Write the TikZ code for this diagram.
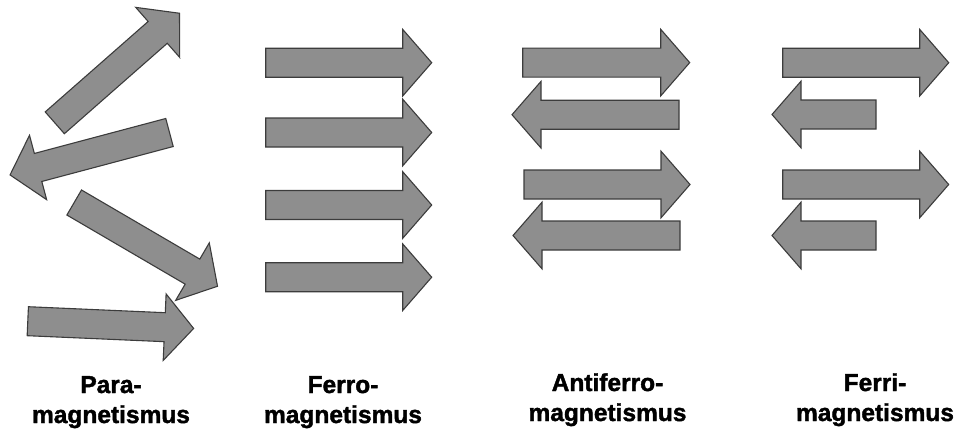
\documentclass[tikz,border=0pt]{standalone}
\usepackage{fontspec}
\setmainfont{Liberation Sans}
\newfontfamily\lblfont[FakeBold=1.6]{Liberation Sans Bold}
\definecolor{arrfill}{HTML}{8E8E8E}
\definecolor{arrline}{HTML}{3C3C3C}
\newcommand{\spinarrow}[4]{% tail x, tail y, angle, length
  \begin{scope}[shift={(#1,#2)},rotate=#3]
    \draw[spin] (0,-14.5) -- ({#4-29},-14.5) -- ({#4-29},-33.3) -- (#4,0)
      -- ({#4-29},33.3) -- ({#4-29},14.5) -- (0,14.5) -- cycle;
  \end{scope}}
\tikzset{
  spin/.style={fill=arrfill,draw=arrline,line width=1.1pt,line join=miter},
  lbl/.style={font=\lblfont\fontsize{24.5}{30}\selectfont,anchor=base,inner sep=0pt}
}
\begin{document}
\begin{tikzpicture}[x=1pt,y=-1pt]
\useasboundingbox (0,0) rectangle (960,429);
% Para
\spinarrow{54.8}{122.8}{41.3}{166}
\spinarrow{169.5}{132.5}{194.9}{165}
\spinarrow{74.2}{202.5}{-30.3}{166}
\spinarrow{27.8}{321.2}{-2.5}{166}
% Ferro
\spinarrow{265.7}{62.7}{0}{166}
\spinarrow{265.7}{132.5}{0}{166}
\spinarrow{265.7}{205}{0}{166}
\spinarrow{265.7}{277.2}{0}{166}
% Antiferro
\spinarrow{522.7}{62.6}{0}{167}
\spinarrow{679}{114.7}{180}{167}
\spinarrow{524}{184.5}{0}{166}
\spinarrow{680}{235.5}{180}{167}
% Ferri
\spinarrow{782.7}{62.7}{0}{166}
\spinarrow{876}{114.5}{180}{104}
\spinarrow{782.7}{184.5}{0}{166}
\spinarrow{876}{235.5}{180}{104}
% Labels
\node[lbl] (pa1) at (111,393) {Para-};
\node[lbl] (pa2) at (111,423) {magnetismus};
\node[lbl] (fe1) at (343,393) {Ferro-};
\node[lbl] (fe2) at (343,423) {magnetismus};
\node[lbl] (af1) at (607.5,391) {Antiferro-};
\node[lbl] (af2) at (607.5,421) {magnetismus};
\node[lbl] (fi1) at (875,391) {Ferri-};
\node[lbl] (fi2) at (875,421) {magnetismus};
\end{tikzpicture}
\end{document}
